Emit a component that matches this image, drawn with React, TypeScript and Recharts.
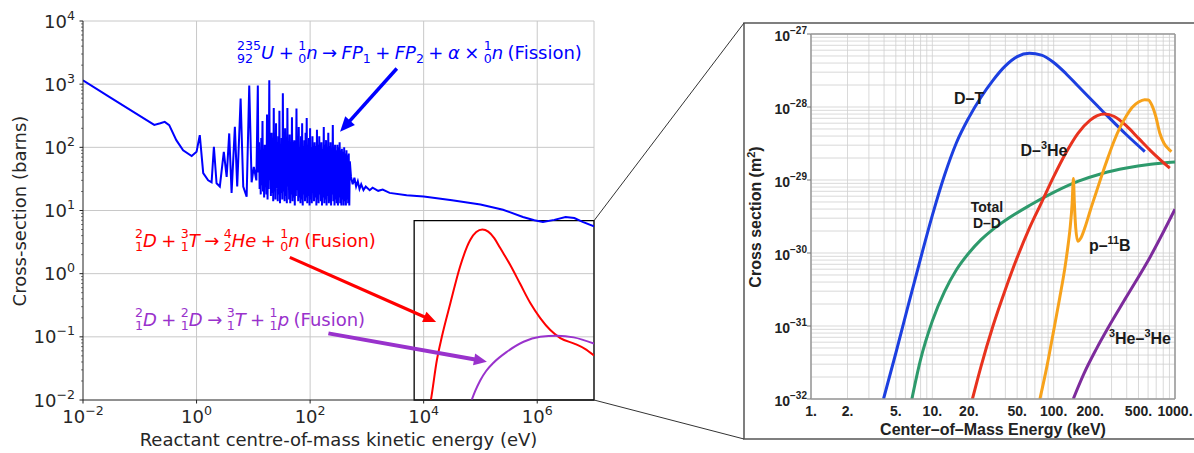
import React from "react";
import {
  LineChart,
  Line,
  XAxis,
  YAxis,
  CartesianGrid,
  ReferenceLine,
  ReferenceArea,
  ReferenceDot,
} from "recharts";

type Pt = [number, number];

// ---------- left panel: energy (eV) vs cross-section (barns) ----------
const fissionThermal: Pt[] = [
  [0.01, 1150], [0.03, 620], [0.1, 315], [0.18, 226], [0.23, 240], [0.275, 253],
  [0.33, 225], [0.44, 130], [0.58, 90], [0.82, 73], [1.0, 85], [1.14, 156],
  [1.31, 39], [1.6, 30], [1.84, 28], [2.02, 102], [2.25, 27], [2.57, 24],
  [3.02, 85], [3.39, 34], [3.76, 166], [4.14, 19], [4.73, 211], [5.2, 24],
  [5.97, 590], [6.64, 24], [7.62, 16.5], [8.47, 955], [9.33, 28], [10.2, 49], [11.3, 30],
];

// resolved resonance region (peak / trough pairs)
const fissionResonance: Pt[] = [
  [12.0, 955], [12.3, 40], [12.6, 120], [12.9, 22], [13.2, 90], [13.5, 18],
  [13.8, 140], [14.1, 25], [14.5, 260], [14.8, 20], [15.1, 70], [15.5, 16],
  [15.9, 110], [16.2, 24], [16.6, 60], [17.0, 18], [17.4, 330], [17.8, 15],
  [18.2, 90], [18.6, 22], [19.1, 1150], [19.5, 30], [20.0, 130], [20.4, 17],
  [20.9, 170], [21.4, 19], [21.9, 95], [22.4, 14], [22.9, 420], [23.4, 20],
  [24.0, 110], [24.5, 15], [25.1, 240], [25.7, 22], [26.3, 120], [26.9, 14],
  [27.5, 150], [28.2, 18], [28.8, 380], [29.5, 13], [30.2, 100], [30.9, 19],
  [31.6, 140], [32.4, 15], [33.1, 720], [33.9, 20], [34.7, 130], [35.5, 14],
  [36.3, 200], [37.2, 17], [38.0, 110], [38.9, 13], [39.8, 420], [40.7, 24],
  [41.7, 120], [42.7, 15], [43.7, 160], [44.7, 13], [45.7, 100], [46.8, 18],
  [47.9, 300], [49.0, 14], [50.1, 120], [51.3, 16], [52.5, 130], [53.7, 12],
  [55.0, 95], [56.2, 17], [57.5, 410], [58.9, 21], [60.3, 110], [61.7, 14],
  [63.1, 210], [64.6, 16], [66.1, 100], [67.6, 13], [69.2, 150], [70.8, 15],
  [72.4, 240], [74.1, 12], [75.9, 105], [77.6, 18], [79.4, 130], [81.3, 14],
  [83.2, 170], [85.1, 16], [87.1, 290], [89.1, 13], [91.2, 110], [93.3, 17],
  [95.5, 140], [97.7, 12], [100, 200], [102, 15], [105, 100], [107, 13],
  [110, 150], [112, 19], [115, 95], [117, 14], [120, 120], [123, 16],
  [126, 105], [129, 12], [132, 190], [135, 15], [138, 110], [141, 13],
  [145, 150], [148, 18], [151, 100], [155, 14], [158, 120], [162, 12],
  [166, 95], [170, 16], [174, 210], [178, 13], [182, 110], [186, 15],
  [191, 130], [195, 12], [200, 100], [204, 17], [209, 170], [214, 13],
  [219, 105], [224, 14], [229, 120], [234, 12], [240, 95], [245, 18],
  [251, 225], [257, 14], [263, 100], [269, 12], [275, 110], [282, 15],
  [288, 90], [295, 13], [302, 110], [309, 12], [316, 100], [324, 16],
  [331, 120], [339, 13], [347, 90], [355, 12], [363, 95], [372, 15],
  [380, 85], [389, 12], [398, 100], [407, 14], [417, 80], [427, 12],
  [437, 90], [447, 15], [457, 75], [468, 13], [479, 80], [490, 12], [501, 60],
];

const fissionFast: Pt[] = [
  [525, 34], [562, 26], [603, 33], [646, 24], [692, 29], [741, 22], [794, 26],
  [871, 21], [955, 24], [1120, 21], [1260, 23], [1580, 20.5], [1900, 21.5],
  [2510, 19], [5010, 17.5], [1e4, 16.6], [3.16e4, 14.5], [1e5, 12.4],
  [2.5e5, 10.3], [5.6e5, 7.9], [8.9e5, 7.0], [1.26e6, 6.6], [2e6, 7.1],
  [3.16e6, 7.9], [4.5e6, 7.6], [6.3e6, 6.6], [1e7, 5.6],
];

const dtFusion: Pt[] = [
  [1.2e4, 0.006], [1.34e4, 0.01], [1.71e4, 0.043], [2.09e4, 0.1], [2.95e4, 0.34],
  [4.37e4, 1.29], [6.6e4, 3.4], [8.43e4, 4.55], [1.08e5, 4.99], [1.37e5, 4.63],
  [1.75e5, 3.66], [2.23e5, 2.54], [3.35e5, 1.37], [5.03e5, 0.684], [7.55e5, 0.343],
  [1.13e6, 0.198], [1.7e6, 0.128], [2.55e6, 0.0957], [4.7e6, 0.0769],
  [7.05e6, 0.0641], [1e7, 0.0506],
];

const ddFusion: Pt[] = [
  [6.6e4, 0.00865], [8.1e4, 0.0139], [9.9e4, 0.0204], [1.26e5, 0.0288],
  [1.68e5, 0.0385], [2.93e5, 0.058], [5.75e5, 0.0836], [1.13e6, 0.1],
  [2.23e6, 0.104], [4.39e6, 0.098], [1e7, 0.078],
];

const leftXTicks = [1e-2, 1, 1e2, 1e4, 1e6];
const leftYTicks = [1e-2, 1e-1, 1, 1e1, 1e2, 1e3, 1e4];

// zoomed region drawn as a box: [xFrom, xTo, yFrom, yTo]
const insetBox = [6.8e3, 1e7, 1e-2, 6.9];

// annotation arrows: [fromE, fromSigma, toE, toSigma]
const fissionArrow = [3365, 1771, 337, 176];
const dtArrow = [43.9, 1.81, 1.66e4, 0.171];
const ddArrow = [210, 0.1135, 1.3e5, 0.0404];

// ---------- right panel: keV vs m^2 ----------
const rDT: Pt[] = [
  [3.96, 1e-32], [5.01, 4.3e-32], [6.31, 1.88e-31], [7.94, 8.0e-31], [10, 3.27e-30],
  [12.6, 1.16e-29], [15.8, 3.24e-29], [20, 7.16e-29], [25.1, 1.35e-28], [31.6, 2.32e-28],
  [39.8, 3.63e-28], [50.1, 4.9e-28], [63.1, 5.43e-28], [79.4, 5.13e-28], [100, 4.07e-28],
  [126, 2.88e-28], [158, 1.95e-28], [251, 8.9e-29], [398, 4.17e-29], [564, 2.45e-29],
];
const rDHe3: Pt[] = [
  [21.4, 1e-32], [25.1, 2.74e-32], [31.6, 1.0e-31], [39.8, 3.09e-31], [50.1, 8.71e-31],
  [63.1, 2.19e-30], [79.4, 4.9e-30], [100, 1.11e-29], [126, 2.34e-29], [158, 4.32e-29],
  [200, 6.61e-29], [229, 7.64e-29], [263, 8.01e-29], [316, 7.41e-29], [398, 5.5e-29],
  [501, 3.72e-29], [631, 2.51e-29], [906, 1.45e-29],
];
const rDD: Pt[] = [
  [6.78, 1e-32], [7.94, 3.31e-32], [10, 1.17e-31], [12.6, 2.95e-31], [15.8, 5.89e-31],
  [20, 1.0e-30], [25.1, 1.51e-30], [31.6, 2.11e-30], [39.8, 2.79e-30], [63.1, 4.47e-30],
  [100, 6.76e-30], [158, 9.55e-30], [251, 1.23e-29], [398, 1.46e-29], [631, 1.64e-29],
  [1000, 1.76e-29],
];
const rPB11: Pt[] = [
  [77, 1e-32], [88, 2.8e-32], [99, 7.9e-32], [112, 2.4e-31], [124, 6.4e-31],
  [132, 1.35e-30], [137, 2.3e-30], [142, 4.8e-30], [145.5, 1.05e-29], [148, 5e-30],
  [152, 2.2e-30], [158, 1.45e-30], [168, 1.62e-30], [182, 2.29e-30], [200, 3.8e-30],
  [224, 6.76e-30], [251, 1.2e-29], [282, 2.09e-29], [316, 3.47e-29], [355, 5.37e-29],
  [398, 7.59e-29], [447, 1.0e-28], [501, 1.17e-28], [562, 1.26e-28], [603, 1.245e-28],
  [646, 1.05e-28], [692, 7.59e-29], [750, 4.37e-29], [813, 3.16e-29], [891, 2.63e-29],
  [935, 2.45e-29],
];
const rHe3He3: Pt[] = [
  [145, 1e-32], [178, 2.24e-32], [224, 4.79e-32], [282, 9.55e-32], [398, 2.51e-31],
  [631, 9.12e-31], [1000, 3.98e-30],
];

const rightXTicks = [1, 2, 5, 10, 20, 50, 100, 200, 500, 1000];
const rightYTicks = [1e-32, 1e-31, 1e-30, 1e-29, 1e-28, 1e-27];

const curveLabels = [
  { x: 20.1, y: 1.33e-28, text: "D–T", size: 16 },
  { x: 83.2, y: 2.58e-29, text: "D–^3He", size: 16 },
  { x: 28.2, y: 4.25e-30, text: "Total", size: 14 },
  { x: 28.2, y: 2.6e-30, text: "D–D", size: 14 },
  { x: 290, y: 1.29e-30, text: "p–^11B", size: 16 },
  { x: 514, y: 6.85e-32, text: "^3He–^3He", size: 16 },
];

// ---------- helpers ----------
const DJ = "DejaVu Sans, sans-serif";
const HV = "Liberation Sans, Arial, Helvetica, sans-serif";
const MINUS = "\u2212";

const rows = (pts: Pt[]) => pts.map(([x, y]) => ({ x, y }));
const lg = (v: number) => Math.log10(v);
const isDecade = (v: number) => Math.abs(lg(v) - Math.round(lg(v))) < 1e-6;
const expText = (v: number) => {
  const e = Math.round(lg(v));
  return e < 0 ? MINUS + -e : String(e);
};
// minor positions 1..9 per decade between two decades
const logGrid = (from: number, to: number) => {
  const out: number[] = [];
  for (let e = from; e < to; e++) for (let m = 1; m <= 9; m++) out.push(m * Math.pow(10, e));
  out.push(Math.pow(10, to));
  return out;
};

const L = { w: 600, h: 453, top: 21, right: 6, yw: 83, xh: 53 };
const lx0 = L.yw, lx1 = L.w - L.right, ly0 = L.top, ly1 = L.h - L.xh;
const lxPix = (v: number) => lx0 + ((lg(v) + 2) / 9) * (lx1 - lx0);
const lyPix = (v: number) => ly0 + ((4 - lg(v)) / 6) * (ly1 - ly0);

const R = { left: 744, top: 23, w: 450, h: 416, mt: 11, mr: 19, yw: 67, xh: 40 };

const LeftXTick = ({ x, y, payload }: any) => (
  <g>
    <line x1={x} x2={x} y1={y} y2={y + 3.5} stroke="#222" />
    <text x={x} y={y + 23} textAnchor="middle" fontFamily={DJ} fontSize={18} fill="#262626">
      10<tspan dy={-8} fontSize={12.6}>{expText(payload.value)}</tspan>
    </text>
  </g>
);

const LeftYTick = ({ x, y, payload }: any) => {
  const v = payload.value;
  if (!isDecade(v)) return <line x1={x - 2} x2={x} y1={y} y2={y} stroke="#222" strokeWidth={0.6} />;
  return (
    <g>
      <line x1={x - 3.5} x2={x} y1={y} y2={y} stroke="#222" />
      <text x={x - 8} y={y + 6.5} textAnchor="end" fontFamily={DJ} fontSize={18} fill="#262626">
        10<tspan dy={-8} fontSize={12.6}>{expText(v)}</tspan>
      </text>
    </g>
  );
};

const RightXTick = ({ x, y, payload }: any) => {
  const v = payload.value;
  if (!rightXTicks.some((t) => Math.abs(t - v) / t < 1e-9)) return null;
  return (
    <text x={x} y={y + 17} textAnchor="middle" fontFamily={HV} fontWeight="bold" fontSize={14} fill="#222">
      {Math.round(v)}.
    </text>
  );
};

const RightYTick = ({ x, y, payload }: any) => {
  const v = payload.value;
  if (!isDecade(v)) return null;
  return (
    <g>
      <line x1={x - 4} x2={x} y1={y} y2={y} stroke="#777" />
      <text x={x - 4} y={y + 6.5} textAnchor="end" fontFamily={HV} fontWeight="bold" fontSize={14} fill="#222">
        10<tspan dy={-7} fontSize={10}>{expText(v)}</tspan>
      </text>
    </g>
  );
};

// "^3He" style superscripts inside svg text
const SupText = ({ x, y, s, size }: { x: number; y: number; s: string; size: number }) => {
  const parts = s.split(/(\^\d+)/).filter(Boolean);
  let up = false;
  return (
    <text x={x} y={y} textAnchor="middle" fontFamily={HV} fontWeight="bold" fontSize={size} fill="#1a1a1a">
      {parts.map((p, i) => {
        if (p.startsWith("^")) {
          up = true;
          return (
            <tspan key={i} dy={-size * 0.4} fontSize={size * 0.68}>
              {p.slice(1)}
            </tspan>
          );
        }
        const dy = up ? size * 0.4 : 0;
        up = false;
        return (
          <tspan key={i} dy={dy}>
            {p}
          </tspan>
        );
      })}
    </text>
  );
};

const arrowShape = (color: string, w: number, hl: number, hw: number) => (p: any) => {
  const { x1, y1, x2, y2 } = p;
  if ([x1, y1, x2, y2].some((v) => typeof v !== "number" || isNaN(v))) return <g />;
  const dx = x2 - x1, dy = y2 - y1;
  const len = Math.hypot(dx, dy);
  const ux = dx / len, uy = dy / len;
  const bx = x2 - ux * hl, by = y2 - uy * hl;
  return (
    <g>
      <line x1={x1} y1={y1} x2={bx + ux} y2={by + uy} stroke={color} strokeWidth={w} />
      <polygon
        points={`${x2},${y2} ${bx - uy * hw},${by + ux * hw} ${bx + uy * hw},${by - ux * hw}`}
        fill={color}
      />
    </g>
  );
};

// nuclide notation: mass number stacked over atomic number, one text block
const Nuc = ({ a, z }: { a: string; z: string }) => (
  <span
    style={{
      display: "inline-block",
      whiteSpace: "pre",
      fontSize: 12.6,
      lineHeight: "12.6px",
      verticalAlign: -3.6,
      fontStyle: "normal",
    }}
  >
    {a + "\n" + z}
  </span>
);
const Sub = ({ c }: { c: string }) => (
  <span style={{ fontSize: 12.6, verticalAlign: -3.5, fontStyle: "normal" }}>{c}</span>
);

const formula: React.CSSProperties = {
  position: "absolute",
  fontFamily: DJ,
  fontSize: 18,
  lineHeight: "30px",
  whiteSpace: "pre",
  wordSpacing: -1.3,
};

const BLUE = "#0000ff";
const RED = "#ff0000";
const PURPLE = "#9932cc";

export default function App() {
  const fissionRows = rows([...fissionThermal, ...fissionResonance, ...fissionFast]);
  const boxTop = lyPix(insetBox[3]);

  return (
    <div style={{ position: "relative", width: 1194, height: 453, background: "#fff", overflow: "hidden" }}>
      <style>{"body{margin:0}"}</style>

      {/* left: fission vs fusion cross-sections */}
      <div style={{ position: "absolute", left: 0, top: 0 }}>
        <LineChart width={L.w} height={L.h} margin={{ top: L.top, right: L.right, bottom: 0, left: 0 }}>
          <CartesianGrid
            stroke="#c8c8c8"
            strokeWidth={1}
            verticalPoints={[1, 1e2, 1e4, 1e6, 1e7].map(lxPix)}
            horizontalPoints={leftYTicks.slice(1).map(lyPix)}
          />
          <XAxis
            type="number"
            dataKey="x"
            scale="log"
            domain={[1e-2, 1e7]}
            allowDataOverflow
            ticks={leftXTicks}
            interval={0}
            tick={LeftXTick}
            tickLine={false}
            tickSize={0}
            tickMargin={0}
            height={L.xh}
            axisLine={{ stroke: "#222", strokeWidth: 1 }}
          />
          <YAxis
            type="number"
            scale="log"
            domain={[1e-2, 1e4]}
            allowDataOverflow
            ticks={logGrid(-2, 4)}
            interval={0}
            tick={LeftYTick}
            tickLine={false}
            tickSize={0}
            tickMargin={0}
            width={L.yw}
            axisLine={{ stroke: "#222", strokeWidth: 1 }}
          />
          <Line data={fissionRows} dataKey="y" type="linear" stroke={BLUE} strokeWidth={2} dot={false} isAnimationActive={false} />
          <Line data={rows(dtFusion)} dataKey="y" type="monotone" stroke={RED} strokeWidth={2} dot={false} isAnimationActive={false} />
          <Line data={rows(ddFusion)} dataKey="y" type="monotone" stroke={PURPLE} strokeWidth={2} dot={false} isAnimationActive={false} />
          <ReferenceArea
            x1={insetBox[0]}
            x2={insetBox[1]}
            y1={insetBox[2]}
            y2={insetBox[3]}
            fill="none"
            fillOpacity={0}
            stroke="#000"
            strokeWidth={1.3}
          />
          <ReferenceLine
            segment={[{ x: fissionArrow[0], y: fissionArrow[1] }, { x: fissionArrow[2], y: fissionArrow[3] }]}
            shape={arrowShape(BLUE, 3.5, 15, 6.5)}
          />
          <ReferenceLine
            segment={[{ x: dtArrow[0], y: dtArrow[1] }, { x: dtArrow[2], y: dtArrow[3] }]}
            shape={arrowShape(RED, 3.2, 13, 5.5)}
          />
          <ReferenceLine
            segment={[{ x: ddArrow[0], y: ddArrow[1] }, { x: ddArrow[2], y: ddArrow[3] }]}
            shape={arrowShape(PURPLE, 4, 13, 6)}
          />
        </LineChart>
      </div>

      {/* right: zoomed fusion cross-sections */}
      <div style={{ position: "absolute", left: R.left, top: R.top }}>
        <LineChart width={R.w} height={R.h} margin={{ top: R.mt, right: R.mr, bottom: 0, left: 0 }}>
          <CartesianGrid stroke="#cfcfcf" strokeWidth={0.8} />
          <XAxis
            type="number"
            dataKey="x"
            scale="log"
            domain={[1, 1000]}
            allowDataOverflow
            ticks={logGrid(0, 3)}
            interval={0}
            tick={RightXTick}
            tickLine={false}
            tickSize={0}
            tickMargin={0}
            height={R.xh}
            axisLine={{ stroke: "#999", strokeWidth: 1.5 }}
          />
          <YAxis
            type="number"
            scale="log"
            domain={[1e-32, 1e-27]}
            allowDataOverflow
            ticks={logGrid(-32, -27)}
            interval={0}
            tick={RightYTick}
            tickLine={false}
            tickSize={0}
            tickMargin={0}
            width={R.yw}
            axisLine={{ stroke: "#999", strokeWidth: 1.5 }}
          />
          <ReferenceLine x={1000} stroke="#999" strokeWidth={1.5} />
          <ReferenceLine y={1e-27} stroke="#999" strokeWidth={1.5} />
          <Line data={rows(rDT)} dataKey="y" type="monotone" stroke="#1c3fe0" strokeWidth={3} dot={false} isAnimationActive={false} />
          <Line data={rows(rDD)} dataKey="y" type="monotone" stroke="#2e9a6c" strokeWidth={3} dot={false} isAnimationActive={false} />
          <Line data={rows(rDHe3)} dataKey="y" type="monotone" stroke="#e8321e" strokeWidth={3} dot={false} isAnimationActive={false} />
          <Line data={rows(rPB11)} dataKey="y" type="monotone" stroke="#f7a21b" strokeWidth={3} dot={false} isAnimationActive={false} />
          <Line data={rows(rHe3He3)} dataKey="y" type="monotone" stroke="#7d2b9c" strokeWidth={3} dot={false} isAnimationActive={false} />
          {curveLabels.map((c) => (
            <ReferenceDot
              key={c.text + c.y}
              x={c.x}
              y={c.y}
              r={0}
              shape={(p: any) => <SupText x={p.cx} y={p.cy + c.size * 0.35} s={c.text} size={c.size} />}
            />
          ))}
        </LineChart>
      </div>

      {/* zoom frame and connectors */}
      <svg width={1194} height={453} style={{ position: "absolute", left: 0, top: 0, pointerEvents: "none" }}>
        <path
          d={`M 1200 ${R.top} H ${R.left} V ${R.top + R.h} H 1200`}
          fill="none"
          stroke="#555"
          strokeWidth={1.5}
        />
        <line x1={lx1} y1={boxTop} x2={R.left} y2={R.top} stroke="#333" strokeWidth={1} />
        <line x1={lx1} y1={ly1} x2={R.left} y2={R.top + R.h} stroke="#333" strokeWidth={1} />
      </svg>

      {/* axis titles */}
      <div
        style={{
          position: "absolute", left: 18.5, top: (ly0 + ly1) / 2, transform: "translate(-50%,-50%) rotate(-90deg)",
          fontFamily: DJ, fontSize: 18, color: "#262626", whiteSpace: "nowrap",
        }}
      >
        Cross-section (barns)
      </div>
      <div
        style={{
          position: "absolute", left: (lx0 + lx1) / 2, top: 439, transform: "translate(-50%,-50%)",
          fontFamily: DJ, fontSize: 18, color: "#262626", whiteSpace: "nowrap",
        }}
      >
        Reactant centre-of-mass kinetic energy (eV)
      </div>
      <div
        style={{
          position: "absolute", left: 755, top: 217, transform: "translate(-50%,-50%) rotate(-90deg)",
          fontFamily: HV, fontWeight: "bold", fontSize: 16, color: "#222", whiteSpace: "nowrap",
        }}
      >
        Cross section (m<sup style={{ fontSize: 11 }}>2</sup>)
      </div>
      <div
        style={{
          position: "absolute", left: 993, top: 430, transform: "translate(-50%,-50%)",
          fontFamily: HV, fontWeight: "bold", fontSize: 16, color: "#222", whiteSpace: "nowrap",
        }}
      >
        Center–of–Mass Energy (keV)
      </div>

      {/* reaction formulas */}
      <div style={{ ...formula, left: 237, top: 38, color: BLUE }}>
        <Nuc a="235" z="92" />
        <i>U</i>
        {" + "}
        <Nuc a="1" z="0" />
        <i>n</i>
        {" → "}
        <i>FP</i>
        <Sub c="1" />
        {" + "}
        <i>FP</i>
        <Sub c="2" />
        {" + "}
        <i>α</i>
        {" × "}
        <Nuc a="1" z="0" />
        <i>n</i>
        {" (Fission)"}
      </div>
      <div style={{ ...formula, left: 135, top: 226, color: RED }}>
        <Nuc a="2" z="1" />
        <i>D</i>
        {" + "}
        <Nuc a="3" z="1" />
        <i>T</i>
        {" → "}
        <Nuc a="4" z="2" />
        <i>He</i>
        {" + "}
        <Nuc a="1" z="0" />
        <i>n</i>
        {" (Fusion)"}
      </div>
      <div style={{ ...formula, left: 135, top: 305, color: PURPLE }}>
        <Nuc a="2" z="1" />
        <i>D</i>
        {" + "}
        <Nuc a="2" z="1" />
        <i>D</i>
        {" → "}
        <Nuc a="3" z="1" />
        <i>T</i>
        {" + "}
        <Nuc a="1" z="1" />
        <i>p</i>
        {" (Fusion)"}
      </div>
    </div>
  );
}
